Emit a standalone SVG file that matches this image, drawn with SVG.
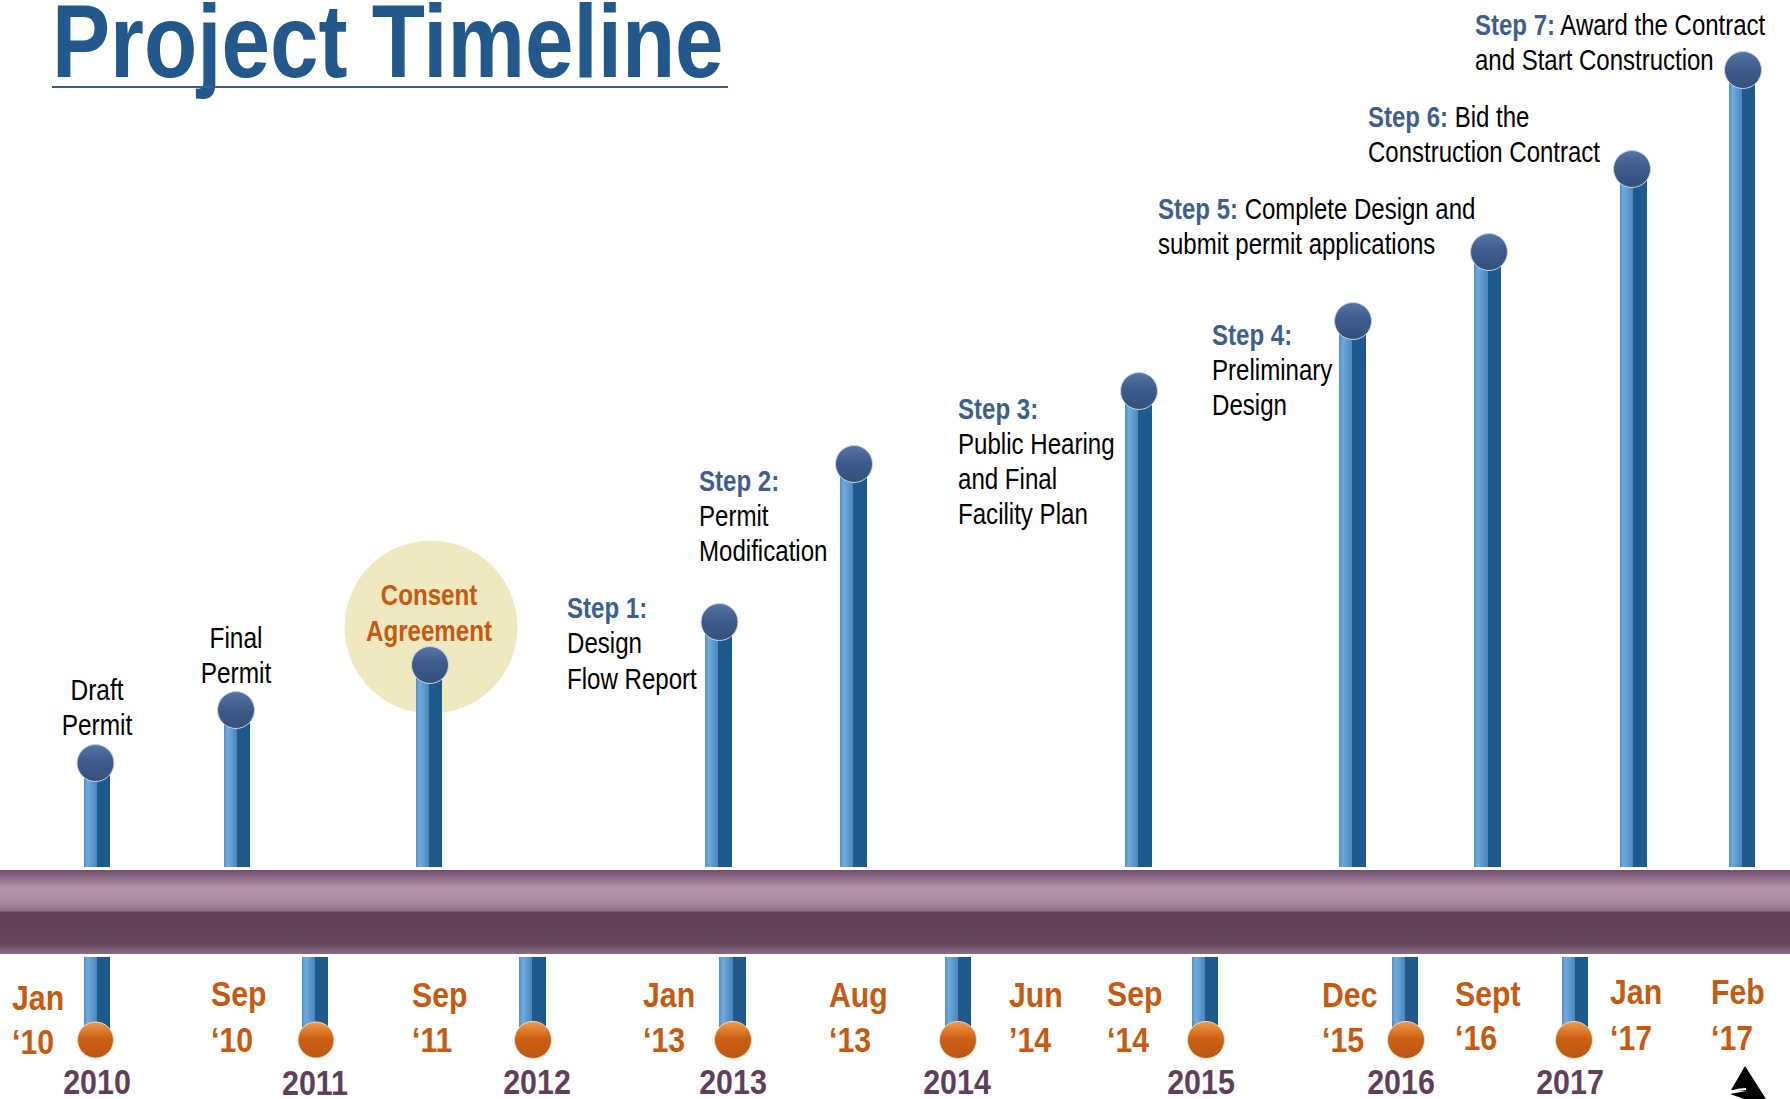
<svg xmlns="http://www.w3.org/2000/svg" width="1790" height="1099" viewBox="0 0 1790 1099">
<style>
text{font-family:"Liberation Sans",Arial,sans-serif}
.l{font-size:30px;fill:#000}
.s{font-weight:700;fill:#3e5f8e}
.c{text-anchor:middle}
.d{font-size:36px;font-weight:700;fill:#c55a11}
.y{font-size:36px;font-weight:700;fill:#5f3f5a;text-anchor:middle}
.t{font-size:104px;font-weight:700;fill:#22588c}
.ca{font-size:30px;font-weight:700;fill:#c55a11;text-anchor:middle}
.stem{fill:url(#gs)}
.bb{fill:url(#gb);stroke:#c9d3e2;stroke-width:1}
.bo{fill:url(#go);stroke:#f6d8c0;stroke-width:1}
</style>
<defs>
<linearGradient id="gs" x1="0" x2="1" y1="0" y2="0">
<stop offset="0" stop-color="#4f90c9"/><stop offset=".14" stop-color="#6fa9de"/><stop offset=".5" stop-color="#4a86bc"/><stop offset=".5" stop-color="#1f5a8c"/><stop offset="1" stop-color="#1f5a8c"/>
</linearGradient>
<linearGradient id="gb" x1="0" x2="0" y1="0" y2="1">
<stop offset="0" stop-color="#5577a5"/><stop offset=".45" stop-color="#3c5c8c"/><stop offset="1" stop-color="#354f7c"/>
</linearGradient>
<linearGradient id="go" x1="0" x2="0" y1="0" y2="1">
<stop offset="0" stop-color="#f29a4a"/><stop offset=".45" stop-color="#cc6115"/><stop offset="1" stop-color="#bd5510"/>
</linearGradient>
<linearGradient id="gp" x1="0" x2="0" y1="0" y2="1">
<stop offset="0" stop-color="#6f4f6a"/><stop offset=".22" stop-color="#b794ad"/><stop offset=".38" stop-color="#a98aa2"/><stop offset=".49" stop-color="#8c6e86"/><stop offset=".5" stop-color="#61415a"/><stop offset=".88" stop-color="#66465e"/><stop offset="1" stop-color="#8a6d85"/>
</linearGradient>
</defs>
<rect width="1790" height="1099" fill="#fff"/>
<g id="title">
<text class="t" transform="translate(52 77) scale(.838 1)">Project Timeline</text>
<rect x="52" y="86" width="676" height="2" fill="#3b5d8c"/>
</g>
<circle id="highlight" cx="431" cy="627" r="86.5" fill="#f0e9bf"/>
<g id="connectors">
<rect class="stem" x="84" y="770" width="26" height="97"/>
<rect class="stem" x="224" y="715" width="26" height="152"/>
<rect class="stem" x="416" y="670" width="26" height="197"/>
<rect class="stem" x="705" y="625" width="27" height="242"/>
<rect class="stem" x="840" y="470" width="27" height="397"/>
<rect class="stem" x="1125" y="395" width="27" height="472"/>
<rect class="stem" x="1339" y="325" width="27" height="542"/>
<rect class="stem" x="1474" y="255" width="27" height="612"/>
<rect class="stem" x="1620" y="172" width="27" height="695"/>
<rect class="stem" x="1729" y="72" width="26" height="795"/>
<rect class="stem" x="84" y="957" width="26" height="80"/>
<rect class="stem" x="302" y="957" width="26" height="80"/>
<rect class="stem" x="519" y="957" width="27" height="80"/>
<rect class="stem" x="719" y="957" width="27" height="80"/>
<rect class="stem" x="945" y="957" width="26" height="80"/>
<rect class="stem" x="1192" y="957" width="26" height="80"/>
<rect class="stem" x="1392" y="957" width="26" height="80"/>
<rect class="stem" x="1562" y="957" width="26" height="80"/>
</g>
<rect id="axis" x="0" y="870" width="1790" height="84" fill="url(#gp)"/>
<g id="draft-permit"><circle class="bb" cx="95.5" cy="763" r="18.5"/>
<text class="l c" transform="translate(97 700) scale(.815 1)">Draft</text><text class="l c" transform="translate(97 735) scale(.815 1)">Permit</text></g>
<g id="final-permit"><circle class="bb" cx="236" cy="710" r="18.5"/>
<text class="l c" transform="translate(236 648) scale(.815 1)">Final</text><text class="l c" transform="translate(236 683) scale(.815 1)">Permit</text></g>
<g id="consent-agreement"><circle class="bb" cx="430" cy="665" r="18.5"/>
<text class="ca" transform="translate(429 605) scale(.805 1)">Consent</text><text class="ca" transform="translate(429 641) scale(.805 1)">Agreement</text></g>
<g id="step-1"><circle class="bb" cx="719.5" cy="622" r="18.5"/>
<g transform="translate(567 618) scale(.803 1)"><text class="l s">Step 1:</text><text class="l" y="35.5">Design</text><text class="l" y="71">Flow Report</text></g></g>
<g id="step-2"><circle class="bb" cx="854" cy="464" r="18.5"/>
<g transform="translate(699 491) scale(.803 1)"><text class="l s">Step 2:</text><text class="l" y="35">Permit</text><text class="l" y="70">Modification</text></g></g>
<g id="step-3"><circle class="bb" cx="1139" cy="391" r="18.5"/>
<g transform="translate(958 419) scale(.803 1)"><text class="l s">Step 3:</text><text class="l" y="35.5">Public Hearing</text><text class="l" y="70.5">and Final</text><text class="l" y="105.5">Facility Plan</text></g></g>
<g id="step-4"><circle class="bb" cx="1353" cy="321" r="18.5"/>
<g transform="translate(1212 345) scale(.803 1)"><text class="l s">Step 4:</text><text class="l" y="35">Preliminary</text><text class="l" y="70">Design</text></g></g>
<g id="step-5"><circle class="bb" cx="1489" cy="252" r="18.5"/>
<g transform="translate(1158 219) scale(.8 1)"><text class="l"><tspan class="s">Step 5:</tspan> Complete Design and</text><text class="l" y="35">submit permit applications</text></g></g>
<g id="step-6"><circle class="bb" cx="1632" cy="169" r="18.5"/>
<g transform="translate(1368 127) scale(.8 1)"><text class="l"><tspan class="s">Step 6:</tspan> Bid the</text><text class="l" y="35">Construction Contract</text></g></g>
<g id="step-7"><circle class="bb" cx="1743" cy="70" r="18.5"/>
<g transform="translate(1475 35) scale(.8 1)"><text class="l"><tspan class="s">Step 7:</tspan> Award the Contract</text><text class="l" y="35">and Start Construction</text></g></g>
<g id="y2010"><circle class="bo" cx="95.5" cy="1040" r="18"/><text class="y" transform="translate(97 1094) scale(.845 1)">2010</text></g>
<g id="y2011"><circle class="bo" cx="316" cy="1040" r="18"/><text class="y" transform="translate(315 1094.5) scale(.845 1)">2011</text></g>
<g id="y2012"><circle class="bo" cx="533" cy="1040" r="18.5"/><text class="y" transform="translate(537 1094) scale(.845 1)">2012</text></g>
<g id="y2013"><circle class="bo" cx="733" cy="1040" r="18.5"/><text class="y" transform="translate(733 1094) scale(.845 1)">2013</text></g>
<g id="y2014"><circle class="bo" cx="958" cy="1040" r="18.5"/><text class="y" transform="translate(957 1094) scale(.845 1)">2014</text></g>
<g id="y2015"><circle class="bo" cx="1206" cy="1040" r="18.5"/><text class="y" transform="translate(1201 1094) scale(.845 1)">2015</text></g>
<g id="y2016"><circle class="bo" cx="1406" cy="1040" r="18.5"/><text class="y" transform="translate(1401 1094) scale(.845 1)">2016</text></g>
<g id="y2017"><circle class="bo" cx="1574" cy="1040" r="18.5"/><text class="y" transform="translate(1570 1094) scale(.845 1)">2017</text></g>
<g id="dates">
<g transform="translate(12 1010) scale(.84 1)"><text class="d">Jan</text><text class="d" y="44">‘10</text></g>
<g transform="translate(211 1006) scale(.84 1)"><text class="d">Sep</text><text class="d" y="46">‘10</text></g>
<g transform="translate(412 1007) scale(.84 1)"><text class="d">Sep</text><text class="d" y="45">‘11</text></g>
<g transform="translate(643 1007) scale(.84 1)"><text class="d">Jan</text><text class="d" y="45">‘13</text></g>
<g transform="translate(829 1007) scale(.84 1)"><text class="d">Aug</text><text class="d" y="45">‘13</text></g>
<g transform="translate(1009 1007) scale(.84 1)"><text class="d">Jun</text><text class="d" y="45">’14</text></g>
<g transform="translate(1107 1006) scale(.84 1)"><text class="d">Sep</text><text class="d" y="46">‘14</text></g>
<g transform="translate(1322 1007) scale(.84 1)"><text class="d">Dec</text><text class="d" y="45">‘15</text></g>
<g transform="translate(1455 1006) scale(.84 1)"><text class="d">Sept</text><text class="d" y="44">‘16</text></g>
<g transform="translate(1610 1004) scale(.84 1)"><text class="d">Jan</text><text class="d" y="46">‘17</text></g>
<g transform="translate(1711 1004) scale(.84 1)"><text class="d">Feb</text><text class="d" y="46">‘17</text></g>
</g>
<g id="north-arrow">
<path d="M1745 1066L1766 1099L1744 1099L1730 1094L1746 1091L1731 1090Z" fill="#000"/>
<path d="M1730 1091Q1738 1088 1746 1088L1746 1090Q1738 1090 1730 1093Z" fill="#fff"/>
</g>
</svg>
